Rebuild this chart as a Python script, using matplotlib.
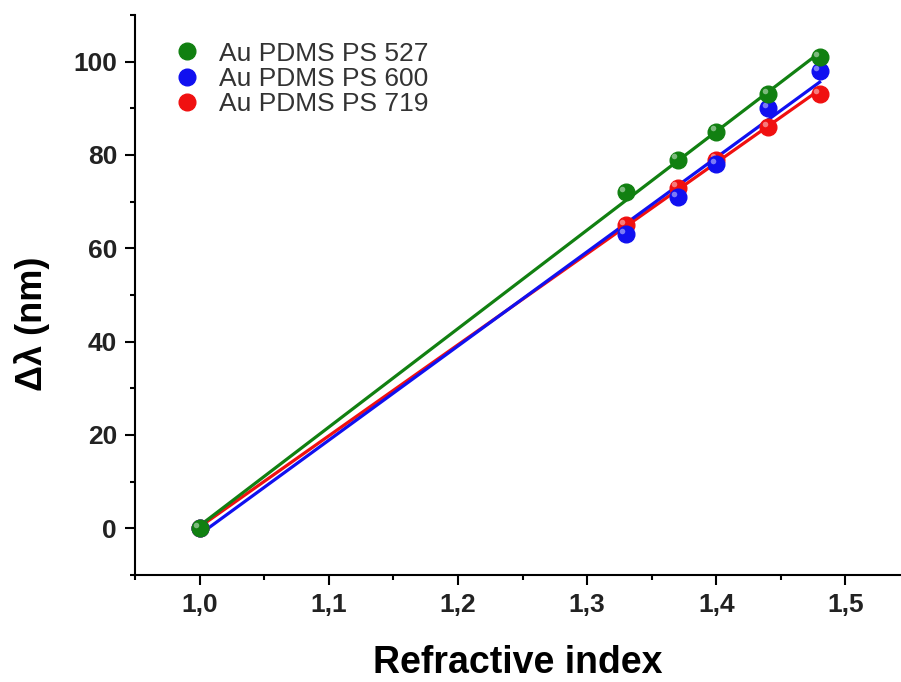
import numpy as np
import matplotlib
matplotlib.use('Agg')
import matplotlib.pyplot as plt
from matplotlib.ticker import MultipleLocator, FuncFormatter
from matplotlib.transforms import ScaledTranslation

#Refractive index values and the wavelength shifts
refr_index = [1.0, 1.33, 1.37, 1.40, 1.44, 1.48]
shift_527 = [0, 72, 79, 85, 93, 101]
shift_600 = [0, 63, 71, 78, 90, 98]
shift_719 = [0, 65, 73, 79, 86, 93]

labels = ['Au PDMS PS 527', 'Au PDMS PS 600', 'Au PDMS PS 719']
colors = ['#118011', '#1010f0', '#f01010']

plt.rcParams['font.family'] = ['Liberation Sans', 'DejaVu Sans']

fig = plt.figure(figsize=(9.01, 6.82), dpi=100)
ax = fig.add_axes([0.15, 0.157, 0.85, 0.821])

series = [shift_527, shift_600, shift_719]
x = np.array(refr_index)

#Drawing red first so green ends up on top
for i in [2, 1, 0]:
    y = np.array(series[i])
    z = (2 - i) * 0.1
    slope, inter = np.polyfit(x, y, 1)
    xf = np.array([x[0], x[-1]])
    ax.plot(xf, slope * xf + inter, color=colors[i], lw=2.3, zorder=2 + z)
    ax.plot(x, y, 'o', color=colors[i], ms=12, mec=colors[i], zorder=3 + z)
    #small highlight so the markers look like balls
    shine = ax.transData + ScaledTranslation(-2.5 / 72, 2.5 / 72, fig.dpi_scale_trans)
    ax.plot(x, y, 'o', color='white', alpha=0.45, ms=4, mec='none',
            transform=shine, zorder=3.05 + z)

handles = []
for i in range(3):
    h, = ax.plot([], [], 'o', color=colors[i], ms=12, label=labels[i])
    handles.append(h)

leg = ax.legend(handles=handles, loc='upper left', bbox_to_anchor=(0.02, 0.995),
                frameon=False, fontsize=19, handletextpad=0.7, labelspacing=0.05,
                handlelength=1.0)
for t in leg.get_texts():
    t.set_color('#333333')

ax.set_xlim(0.95, 1.543)
ax.set_ylim(-10, 110)

ax.xaxis.set_major_locator(MultipleLocator(0.1))
ax.xaxis.set_minor_locator(MultipleLocator(0.05))
ax.yaxis.set_major_locator(MultipleLocator(20))
ax.yaxis.set_minor_locator(MultipleLocator(10))
ax.xaxis.set_major_formatter(FuncFormatter(lambda v, p: ('%.1f' % v).replace('.', ',')))

ax.spines['top'].set_visible(False)
ax.spines['right'].set_visible(False)
for s in ['left', 'bottom']:
    ax.spines[s].set_linewidth(1.5)

ax.tick_params(which='major', direction='out', length=7, width=1.5, labelsize=19, pad=6)
ax.tick_params(which='minor', direction='out', length=3.5, width=1.5)
for lab in ax.get_xticklabels() + ax.get_yticklabels():
    lab.set_fontweight('bold')
    lab.set_color('#222222')

ax.set_xlabel('Refractive index', fontsize=27, fontweight='bold')
ax.set_ylabel('Δλ (nm)', fontsize=26, fontweight='bold')
ax.xaxis.set_label_coords(0.5, -0.125)
ax.yaxis.set_label_coords(-0.111, 0.448)

plt.savefig('out.png', dpi=100)
plt.close()
